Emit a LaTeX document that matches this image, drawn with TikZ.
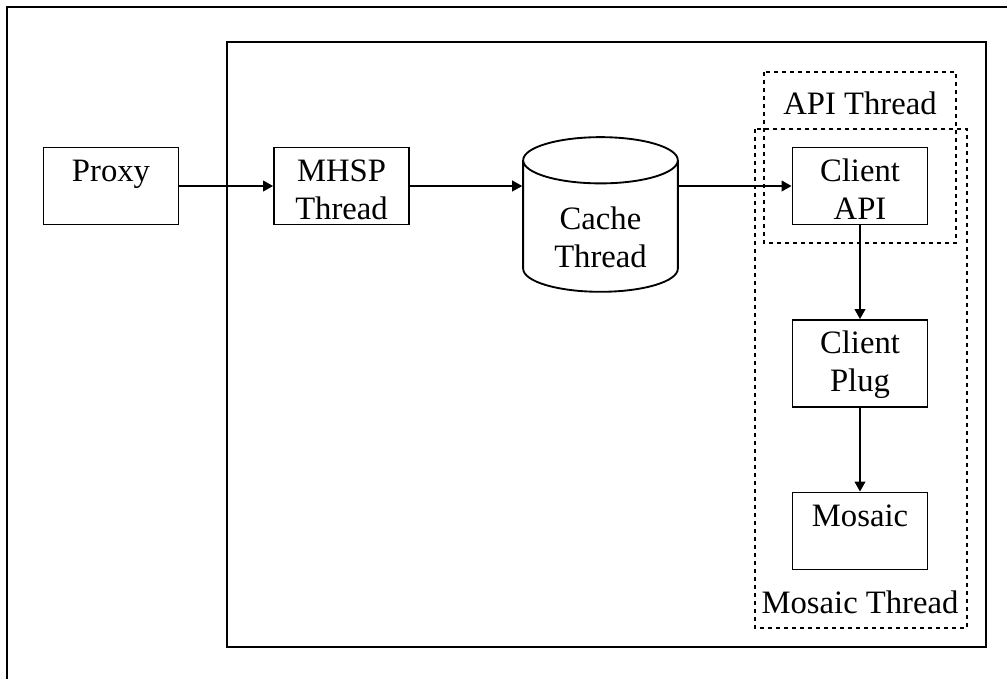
\documentclass[tikz,border=0pt]{standalone}
\usepackage{fontspec}
\setmainfont{Liberation Serif}
\usetikzlibrary{positioning, arrows.meta, shapes.geometric}

\tikzset{
  txt/.style={font=\fontsize{24.5}{28.5}\selectfont, align=center, inner sep=0pt},
  blk/.style={txt, draw, line width=1.4pt, minimum width=101.25pt, minimum height=57.75pt,
              text height=50pt, text depth=0.5pt},
  flow/.style={line width=1.4pt, -{Triangle[length=7.5pt,width=8pt]}},
  dotbox/.style={line width=1.4pt, dash pattern=on 3pt off 3pt},
}

\begin{document}
\begin{tikzpicture}[x=0.75pt, y=-0.75pt]
  \useasboundingbox (0,0) rectangle (1007,679);
  % frames (outer one runs off the page)
  \draw[line width=2pt] (1007,7) -- (7,7) -- (7,679);
  \draw[line width=1.4pt] (227,42) rectangle (986,647);

  % thread groups
  \draw[dotbox] (764,72) rectangle (956,243);
  \draw[dotbox] (755,129) rectangle (967,628);
  \node[txt] (apithread) at (860,103) {API Thread};
  \node[txt] (mosthread) at (860,602) {Mosaic Thread};

  % blocks
  \node[blk] (proxy) at (111,186) {Proxy\\\mbox{}};
  \node[blk] (mhsp) at (341.5,186) {MHSP\\Thread};
  \node[txt, draw, line width=1.4pt, cylinder, shape border rotate=90, aspect=0.5,
        minimum width=116pt, minimum height=116pt, text height=62pt, text depth=0.5pt]
        (cache) at (600.5,226.5) {Cache\\Thread};
  \node[blk] (capi) at (860,186) {Client\\API};
  \node[blk, minimum height=65.25pt, text height=42pt, text depth=0.75pt] (cplug) at (860,363.5) {Client\\Plug};
  \node[blk] (mosaic) at (860,531) {Mosaic\\\mbox{}};

  % arrows
  \draw[flow] (proxy) -- (mhsp);
  \draw[flow] (mhsp.east) -- (mhsp.east -| cache.west);
  \draw[flow] (cache.east |- capi.west) -- (capi.west);
  \draw[flow] (capi) -- (cplug);
  \draw[flow] (cplug) -- (mosaic);
\end{tikzpicture}
\end{document}
